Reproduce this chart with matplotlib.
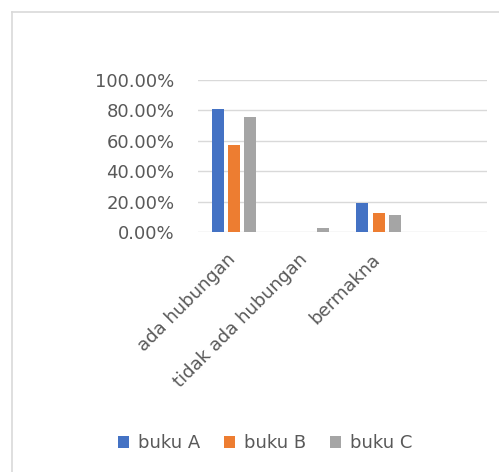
from matplotlib import pyplot as plt
from matplotlib.lines import Line2D
from matplotlib.ticker import FuncFormatter
import matplotlib.transforms as mtransforms
import numpy as np

categories = ['ada hubungan', 'tidak ada hubungan', 'bermakna', '']
series_names = ['buku A', 'buku B', 'buku C']
buku_a = [0.8125, 0.0, 0.19, 0.0]
buku_b = [0.57, 0.0, 0.13, 0.0]
buku_c = [0.76, 0.03, 0.114, 0.0]
colors = ['#4472c4', '#ed7d31', '#a5a5a5']

TXT = '#595959'
GRID = '#d9d9d9'

W, H = 499, 472
fig = plt.figure(figsize=(W / 100, H / 100), dpi=100)

# chart frame: only the top and left edges fall inside the picture
fx, fy = 11.5 / W, (H - 11.5) / H
fig.add_artist(Line2D([fx, fx], [0, fy], transform=fig.transFigure, color=GRID, linewidth=1.2))
fig.add_artist(Line2D([fx, 1], [fy, fy], transform=fig.transFigure, color=GRID, linewidth=1.2))

ax = fig.add_axes([198 / W, (H - 232.3) / H, (487 - 198) / W, (232.3 - 80) / H])

x = np.arange(len(categories))
offs = [-0.224, 0.0, 0.224]
for vals, name, c, o in zip([buku_a, buku_b, buku_c], series_names, colors, offs):
    ax.bar(x + o, vals, width=0.166, color=c, label=name, zorder=3)

ax.set_xlim(-0.5, len(categories) - 0.5)
ax.set_ylim(0, 1.0)
ax.set_yticks(np.arange(0, 1.01, 0.2))
ax.yaxis.set_major_formatter(FuncFormatter(lambda v, p: f'{v * 100:.2f}%'))
ax.grid(axis='y', color=GRID, linewidth=1.0, zorder=0)
for s in ax.spines.values():
    s.set_visible(False)
ax.tick_params(axis='y', length=0, pad=17, labelsize=13, labelcolor=TXT)
ax.tick_params(axis='x', length=0, pad=13, labelsize=13, labelcolor=TXT)
ax.set_xticks(x)
ax.set_xticklabels(categories, rotation=45, ha='right', va='top', rotation_mode='anchor')
shift = mtransforms.ScaledTranslation(-8 / 100, 0, fig.dpi_scale_trans)
for lbl in ax.get_xticklabels():
    lbl.set_transform(lbl.get_transform() + shift)

fig.legend(loc='center', bbox_to_anchor=(265 / W, (H - 443.5) / H), ncol=3,
           frameon=False, fontsize=13, labelcolor=TXT,
           handlelength=0.62, handleheight=0.62, handletextpad=0.5,
           columnspacing=1.3)

fig.savefig('out.png', dpi=100)
